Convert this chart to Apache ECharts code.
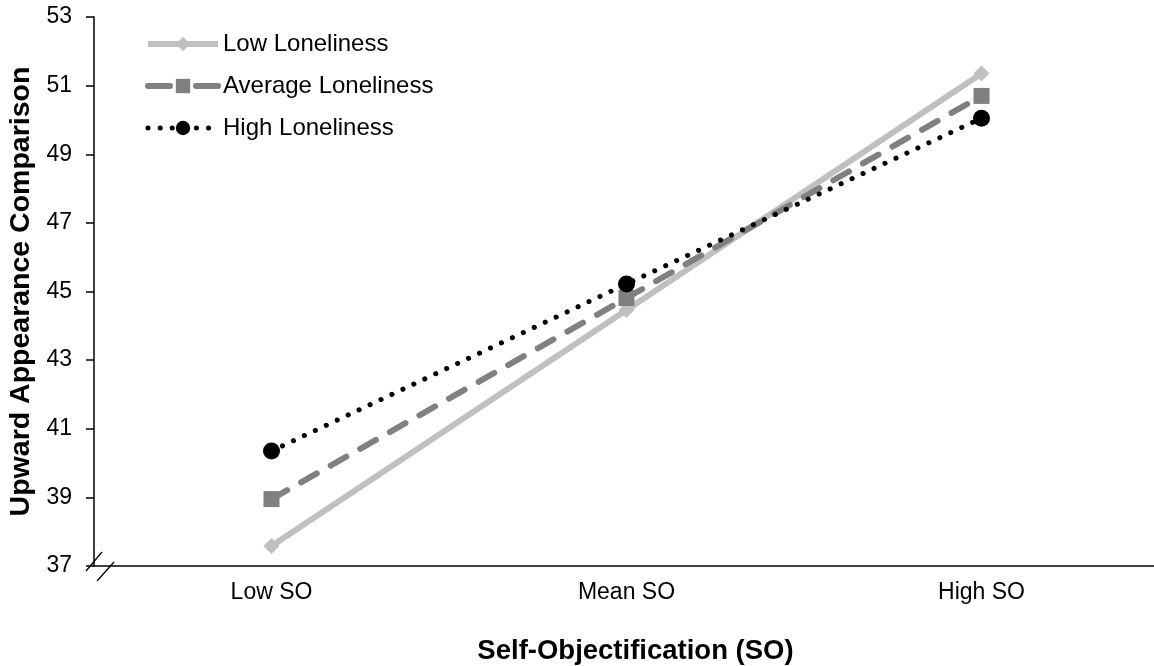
<!DOCTYPE html>
<html>
<head>
<meta charset="utf-8">
<script src="https://cdn.jsdelivr.net/npm/echarts@6/dist/echarts.min.js"></script>
<style>html,body{margin:0;padding:0;background:#fff}#c{width:1154px;height:666px}</style>
</head>
<body>
<div id="c"></div>
<script>
const categories = ['Low SO', 'Mean SO', 'High SO'];
const lowLoneliness = [37.58, 44.46, 51.35];
const averageLoneliness = [38.95, 44.81, 50.7];
const highLoneliness = [40.35, 45.22, 50.05];
const yTicks = [37, 39, 41, 43, 45, 47, 49, 51, 53];

const chart = echarts.init(document.getElementById('c'), null, {renderer: 'canvas'});
const font = 'Arial, "Liberation Sans", sans-serif';
chart.setOption({
  backgroundColor: '#fff',
  animation: false,
  grid: {left: 94, right: -5, top: 17, bottom: 100, containLabel: false, outerBoundsMode: 'none'},
  legend: {
    orient: 'vertical', left: 140, top: 27, itemWidth: 70, itemHeight: 18, itemGap: 18,
    textStyle: {fontFamily: font, fontSize: 24, color: '#000'},
    lineStyle: {width: 'inherit'},
    data: [
      {name: 'Low Loneliness'},
      {name: 'Average Loneliness', lineStyle: {type: [22, 26]}},
      {name: 'High Loneliness'}
    ]
  },
  xAxis: {
    type: 'category', data: categories, boundaryGap: true,
    name: 'Self-Objectification (SO)', nameLocation: 'middle', nameGap: 71,
    nameTextStyle: {fontFamily: font, fontSize: 27.5, fontWeight: 'bold', color: '#000', padding: [0, 0, 0, 18]},
    axisLine: {lineStyle: {color: '#000', width: 1.5}},
    axisTick: {alignWithLabel: true, length: 6, lineStyle: {color: '#000', width: 1.5}},
    axisLabel: {fontFamily: font, fontSize: 23, color: '#000', margin: 15}
  },
  yAxis: {
    type: 'value', min: yTicks[0], max: yTicks[yTicks.length - 1], interval: 2,
    name: 'Upward Appearance Comparison', nameLocation: 'middle', nameGap: 56,
    nameTextStyle: {fontFamily: font, fontSize: 28.5, fontWeight: 'bold', color: '#000'},
    axisLine: {show: true, lineStyle: {color: '#000', width: 1.5}},
    axisTick: {show: true, length: 8, lineStyle: {color: '#000', width: 1.5}},
    axisLabel: {fontFamily: font, fontSize: 23, color: '#000', margin: 22},
    splitLine: {show: false}
  },
  series: [
    {
      name: 'Low Loneliness', type: 'line', data: lowLoneliness,
      symbol: 'diamond', symbolSize: 16,
      lineStyle: {color: '#c0c0c0', width: 6},
      itemStyle: {color: '#c0c0c0'}, z: 2
    },
    {
      name: 'Average Loneliness', type: 'line', data: averageLoneliness,
      symbol: 'rect', symbolSize: 16,
      lineStyle: {color: '#808080', width: 6, type: [18, 16], cap: 'round'},
      itemStyle: {color: '#808080'}, z: 3
    },
    {
      name: 'High Loneliness', type: 'line', data: highLoneliness,
      symbol: 'circle', symbolSize: 17,
      lineStyle: {color: '#000', width: 5, type: [0.1, 12], cap: 'round'},
      itemStyle: {color: '#000'}, z: 4
    }
  ],
  graphic: [
    {type: 'line', shape: {x1: 86, y1: 571, x2: 102, y2: 552}, style: {stroke: '#000', lineWidth: 1.3}},
    {type: 'line', shape: {x1: 97, y1: 581, x2: 114, y2: 562}, style: {stroke: '#000', lineWidth: 1.3}}
  ]
});
</script>
</body>
</html>
